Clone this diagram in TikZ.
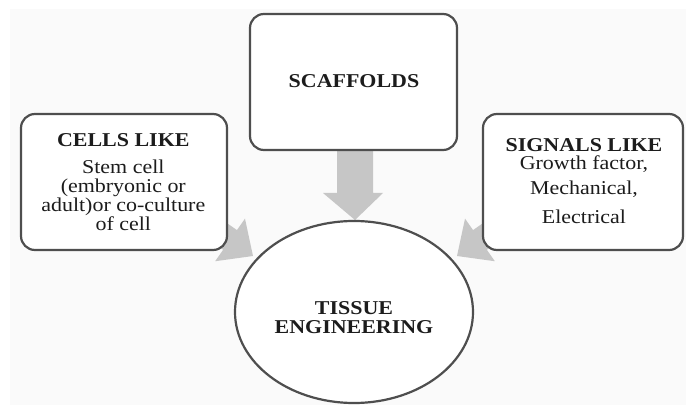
\documentclass[tikz,border=0pt]{standalone}
\usepackage{fontspec}
\setmainfont[FakeStretch=1.12]{Liberation Serif}
\usetikzlibrary{shapes.geometric}
\definecolor{bgc}{HTML}{FAFAFA}
\definecolor{linec}{HTML}{4E4E4E}
\definecolor{arrowc}{HTML}{C6C6C6}
\definecolor{txtc}{HTML}{1C1C1C}
\begin{document}
\begin{tikzpicture}[x=1pt,y=1pt,
  box/.style={draw=linec, line width=2.2pt, rounded corners=14pt, fill=white, inner sep=0pt},
  oval/.style={ellipse, draw=linec, line width=2.2pt, fill=white, inner sep=0pt},
  blockarrow/.style={fill=arrowc, draw=none},
  lbl/.style={anchor=base, inner sep=0pt, text=txtc, font=\fontsize{19.6}{20}\selectfont},
  bl/.style={lbl, font=\fontsize{19.6}{20}\selectfont\bfseries}]
\useasboundingbox (0,0) rectangle (686,405);
\fill[white] (0,0) rectangle (686,405);
\fill[bgc] (10,0) rectangle (686,396);
% block arrows (drawn first, boxes cover their tails)
\coordinate (ltip) at (253,149);
\coordinate (rtip) at (457,149);
\fill[blockarrow, shift={(ltip)}, rotate=-35]
  (0,0) -- (-28,26) -- (-28,12) -- (-80,12) -- (-80,-12) -- (-28,-12) -- (-28,-26) -- cycle;
\fill[blockarrow, shift={(rtip)}, rotate=-145]
  (0,0) -- (-28,26) -- (-28,12) -- (-80,12) -- (-80,-12) -- (-28,-12) -- (-28,-26) -- cycle;
\fill[blockarrow] (337,265) -- (373,265) -- (373,212) -- (383,212) -- (355,185) -- (323,212) -- (337,212) -- cycle;
% boxes
\node[box, minimum width=206pt, minimum height=136pt] (cells) at (124,223) {};
\node[box, minimum width=207pt, minimum height=136pt] (scaf) at (353.5,323) {};
\node[box, minimum width=200pt, minimum height=136pt] (sig) at (583,223) {};
\node[oval, minimum width=238pt, minimum height=182pt] (te) at (354,93) {};
% texts
\node[bl] (c1) at (123.3,258.3) {CELLS LIKE};
\node[lbl] (c2) at (123.3,231) {Stem cell};
\node[lbl] (c3) at (123.3,212.3) {(embryonic or};
\node[lbl] (c4) at (123.3,193.3) {adult)or co-culture};
\node[lbl] (c5) at (123.3,175) {of cell};
\node[bl] (s0) at (354,317.7) {SCAFFOLDS};
\node[bl] (g1) at (584,253.3) {SIGNALS LIKE};
\node[lbl] (g2) at (584,235) {Growth factor,};
\node[lbl] (g3) at (584,210) {Mechanical,};
\node[lbl] (g4) at (584,181) {Electrical};
\node[bl] (t1) at (354,91) {TISSUE};
\node[bl] (t2) at (354,71.7) {ENGINEERING};
\end{tikzpicture}
\end{document}
